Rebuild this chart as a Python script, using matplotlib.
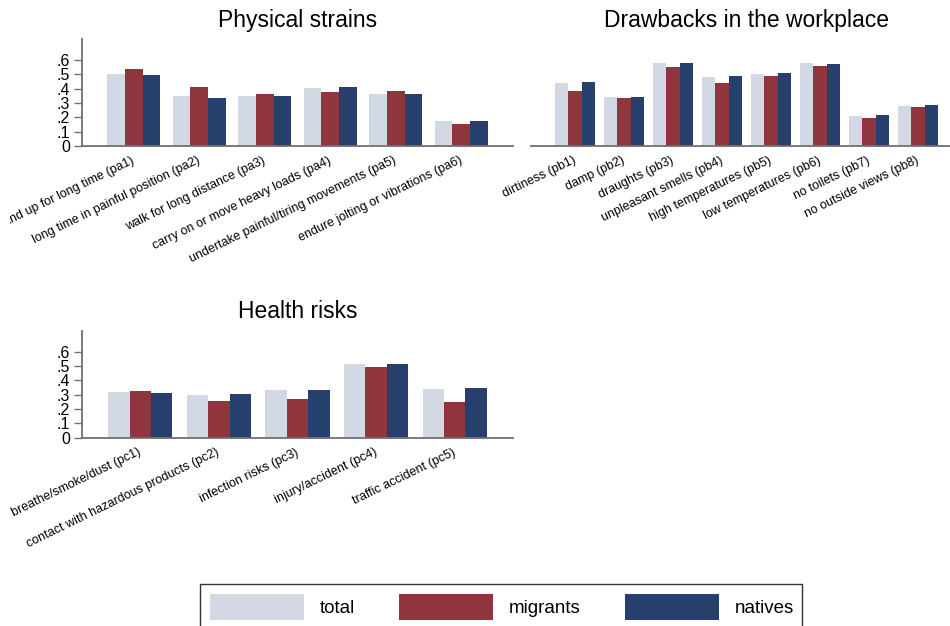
import numpy as np
import matplotlib
matplotlib.use("Agg")
import matplotlib.pyplot as plt
from matplotlib.patches import Rectangle
from matplotlib.transforms import Bbox, TransformedBbox

plt.rcParams['font.family'] = ['Liberation Sans', 'DejaVu Sans']

groups = ['total', 'migrants', 'natives']
colors = ['#D2D8E4', '#8F353D', '#273F6C']

# Physical strains
phys_labels = ['stand up for long time (pa1)', 'long time in painful position (pa2)',
               'walk for long distance (pa3)', 'carry on or move heavy loads (pa4)',
               'undertake painful/tiring movements (pa5)', 'endure jolting or vibrations (pa6)']
phys_total = [0.500, 0.347, 0.349, 0.405, 0.363, 0.174]
phys_migr = [0.540, 0.410, 0.360, 0.377, 0.384, 0.153]
phys_nat = [0.493, 0.337, 0.347, 0.410, 0.363, 0.174]

# Drawbacks in the workplace
draw_labels = ['dirtiness (pb1)', 'damp (pb2)', 'draughts (pb3)', 'unpleasant smells (pb4)',
               'high temperatures (pb5)', 'low temperatures (pb6)', 'no toilets (pb7)',
               'no outside views (pb8)']
draw_total = [0.437, 0.344, 0.577, 0.484, 0.505, 0.577, 0.211, 0.281]
draw_migr = [0.384, 0.333, 0.551, 0.440, 0.490, 0.556, 0.195, 0.272]
draw_nat = [0.444, 0.344, 0.577, 0.490, 0.509, 0.574, 0.214, 0.286]

# Health risks
health_labels = ['breathe/smoke/dust (pc1)', 'contact with hazardous products (pc2)',
                 'infection risks (pc3)', 'injury/accident (pc4)', 'traffic accident (pc5)']
health_total = [0.317, 0.298, 0.331, 0.514, 0.340]
health_migr = [0.324, 0.256, 0.272, 0.495, 0.251]
health_nat = [0.312, 0.305, 0.335, 0.516, 0.349]

yticks = [0, 0.1, 0.2, 0.3, 0.4, 0.5, 0.6]
yticklabels = ['0', '.1', '.2', '.3', '.4', '.5', '.6']

W, H = 950, 626
fig = plt.figure(figsize=(9.5, 6.26), dpi=100)


def px_axes(left, bottom, width, height):
    return fig.add_axes([left / W, 1 - bottom / H, width / W, height / H])


def draw_panel(ax, title, labels, series, xlim, show_y=True):
    x = np.arange(len(labels))
    bw = 0.272
    for i, vals in enumerate(series):
        ax.bar(x + (i - 1) * bw, vals, width=bw, color=colors[i], linewidth=0,
               label=groups[i])
    ax.set_xlim(*xlim)
    ax.set_ylim(0, 0.747)
    ax.set_title(title, fontsize=16.5, pad=9)
    ax.set_xticks(x)
    ax.set_xticklabels(labels, rotation=26, ha='right', va='center',
                       rotation_mode='anchor', fontsize=9.0)
    ax.tick_params(axis='x', length=0, pad=10)
    for s in ['top', 'right']:
        ax.spines[s].set_visible(False)
    ax.spines['bottom'].set_color('#707070')
    ax.spines['bottom'].set_linewidth(1.3)
    if show_y:
        ax.spines['left'].set_color('#707070')
        ax.spines['left'].set_linewidth(1.3)
        ax.set_yticks(yticks)
        ax.set_yticklabels(yticklabels, fontsize=11.5)
        ax.tick_params(axis='y', length=5.5, width=1, color='#707070', pad=3)
    else:
        ax.spines['left'].set_visible(False)
        ax.set_yticks([])
    ax.set_facecolor('none')


ax1 = px_axes(82, 146, 431, 107)
draw_panel(ax1, 'Physical strains', phys_labels, [phys_total, phys_migr, phys_nat],
           (-0.79, 5.79))

ax2 = px_axes(531, 146, 431, 107)
draw_panel(ax2, 'Drawbacks in the workplace', draw_labels,
           [draw_total, draw_migr, draw_nat], (-0.9, 7.9), show_y=False)

ax3 = px_axes(82, 437.7, 431, 107)
draw_panel(ax3, 'Health risks', health_labels, [health_total, health_migr, health_nat],
           (-0.74, 4.74))

# the long first label of the top panel runs past the left margin
clip = TransformedBbox(Bbox([[10 / W, 0], [1, 1]]), fig.transFigure)
first = ax1.get_xticklabels()[0]
first.set_clip_box(clip)
first.set_clip_on(True)

handles, labels = ax1.get_legend_handles_labels()
fig.legend(handles, labels, loc='upper center', bbox_to_anchor=(502 / W, 1 - 590 / H),
           ncol=3, frameon=False, fontsize=13.5, handlelength=5.0, handleheight=1.75,
           handletextpad=0.85, columnspacing=2.35, borderaxespad=0, borderpad=0.2)
fig.add_artist(Rectangle((200 / W, -0.02), 602 / W, (1 - 584 / H) + 0.02,
                         transform=fig.transFigure, fill=False, edgecolor='#333333',
                         linewidth=1.0))

fig.savefig('out.png', dpi=100)
